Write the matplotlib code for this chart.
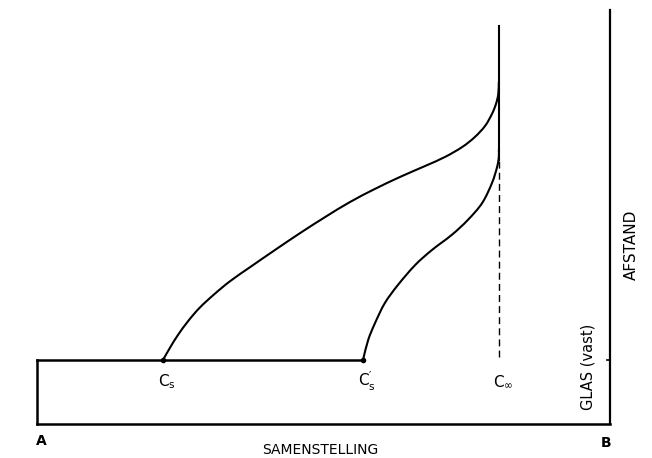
import matplotlib
matplotlib.use("Agg")
import matplotlib.pyplot as plt
import numpy as np
from matplotlib.path import Path
from matplotlib.patches import PathPatch

# composition runs from A (0) to B (1), distance from 0 (bottom of glass) to 1
cs = 0.220          # surface composition C_s
cs_prime = 0.569    # surface composition C'_s
c_inf = 0.806       # bulk composition C_inf
surface = 0.155     # glass surface
dash_top = 0.638    # where the lower profile joins the bulk line
top = 0.961

# upper profile: from C_s up to the bulk composition
upper_x = [0.220, 0.232, 0.246, 0.264, 0.284, 0.309, 0.337, 0.372, 0.415,
           0.459, 0.503, 0.546, 0.590, 0.634, 0.677, 0.712, 0.742, 0.764,
           0.782, 0.794, 0.801, 0.805, 0.806]
upper_y = [0.155, 0.184, 0.215, 0.249, 0.281, 0.313, 0.345, 0.379, 0.420,
           0.461, 0.500, 0.536, 0.568, 0.597, 0.623, 0.645, 0.669, 0.693,
           0.720, 0.749, 0.773, 0.797, 0.826]

# lower profile: from C'_s up to the bulk composition
lower_x = [0.569, 0.578, 0.590, 0.607, 0.630, 0.660, 0.689, 0.724, 0.752,
           0.777, 0.794, 0.803, 0.806, 0.806]
lower_y = [0.155, 0.203, 0.244, 0.292, 0.336, 0.384, 0.420, 0.457, 0.493,
           0.534, 0.582, 0.621, 0.645, 0.662]


def smooth_path(xs, ys):
    # catmull-rom segments written as cubic beziers, passing through each point
    p = np.column_stack([xs, ys])
    ext = np.vstack([2 * p[0] - p[1], p, 2 * p[-1] - p[-2]])
    verts = [p[0]]
    codes = [Path.MOVETO]
    for i in range(1, len(ext) - 2):
        p0, p1, p2, p3 = ext[i - 1], ext[i], ext[i + 1], ext[i + 2]
        verts += [p1 + (p2 - p0) / 6, p2 - (p3 - p1) / 6, p2]
        codes += [Path.CURVE4] * 3
    return Path(verts, codes)


fig = plt.figure(figsize=(6.52, 4.58), dpi=100)
ax = fig.add_axes([0, 0, 1, 1])
ax.set_xlim(-37 / 573, 615 / 573)
ax.set_ylim(-34 / 414, 424 / 414)
ax.axis("off")

lw = 1.5
k = "black"

# glass block and axes
ax.plot([0, 0], [0, surface], color=k, lw=1.8)
ax.plot([0, cs_prime], [surface, surface], color=k, lw=1.8)
ax.plot([0, 1], [0, 0], color=k, lw=1.8)
ax.plot([1, 1], [0, 1], color=k, lw=1.6)
ax.plot([1 - 0.006, 1], [surface, surface], color=k, lw=1.2)

# concentration profiles
for xs, ys in [(upper_x, upper_y), (lower_x, lower_y)]:
    ax.add_patch(PathPatch(smooth_path(xs, ys), fill=False, color=k, lw=lw,
                           capstyle="round", joinstyle="round"))

ax.plot([c_inf, c_inf], [dash_top, top], color=k, lw=lw)
ax.plot([c_inf, c_inf], [surface + 0.008, dash_top], color=k, lw=1.0,
        dashes=(5, 3))
ax.plot([cs, cs_prime], [surface, surface], "o", color=k, ms=3)

fs = 10
ax.text(cs + 0.006, surface - 0.053, r"$\mathregular{C_s}$", fontsize=11,
        ha="center", va="center")
ax.text(cs_prime + 0.006, surface - 0.053, r"$\mathregular{C_s^{\prime}}$",
        fontsize=11, ha="center", va="center")
ax.text(c_inf + 0.008, surface - 0.053, r"$\mathregular{C_\infty}$",
        fontsize=11, ha="center", va="center")

ax.text(0.007, -0.04, "A", fontsize=fs, ha="center", va="center",
        fontweight="bold")
ax.text(0.993, -0.045, "B", fontsize=fs, ha="center", va="center",
        fontweight="bold")
ax.text(0.494, -0.063, "SAMENSTELLING", fontsize=fs, ha="center", va="center")
ax.text(0.961, 0.137, "GLAS (vast)", fontsize=10.5, ha="center", va="center",
        rotation=90)
ax.text(1.038, 0.432, "AFSTAND", fontsize=11, ha="center", va="center",
        rotation=90)

fig.savefig("out.png", dpi=100)
